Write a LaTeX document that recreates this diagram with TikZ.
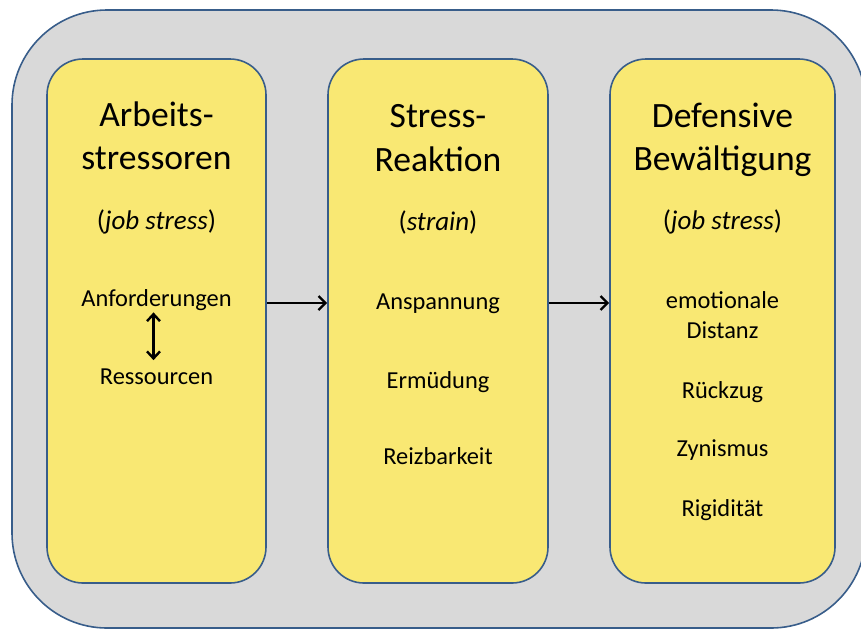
\documentclass[tikz,border=0pt]{standalone}
\usepackage{fontspec}
\setmainfont{Carlito}
\usetikzlibrary{arrows.meta}
\definecolor{panelgray}{RGB}{217,217,217}
\definecolor{edgeblue}{RGB}{56,93,138}
\definecolor{stageyellow}{RGB}{249,232,115}
\begin{document}
\begin{tikzpicture}[x=1pt,y=-1pt,
  outerpanel/.style={draw=edgeblue, fill=panelgray, line width=1.6pt, rounded corners=95pt,
    minimum width=854pt, minimum height=618pt, inner sep=0pt},
  stagebox/.style={draw=edgeblue, fill=stageyellow, line width=1.6pt, rounded corners=36pt,
    minimum height=524pt, inner sep=0pt},
  titletext/.style={anchor=base, inner sep=0pt, font=\fontsize{35.6}{42}\selectfont},
  subtext/.style={anchor=base, inner sep=0pt, font=\fontsize{27}{32}\selectfont},
  itemtext/.style={anchor=base, inner sep=0pt, font=\fontsize{24.4}{29}\selectfont},
  flow/.style={-{Straight Barb[length=7pt,width=14pt]}, line width=2.4pt, black},
  link/.style={{Straight Barb[length=7pt,width=13pt]}-{Straight Barb[length=7pt,width=13pt]}, line width=2.4pt, black}]
\useasboundingbox (0,0) rectangle (861,630);

% background panel
\node[outerpanel] (panel) at (439,319) {};

% the three stages
\node[stagebox, minimum width=219pt] (b1) at (156.5,321) {};
\node[stagebox, minimum width=220pt] (b2) at (438,321) {};
\node[stagebox, minimum width=225pt] (b3) at (722.5,321) {};

% stage 1
\node[titletext] (t1a) at (156.5,126) {Arbeits-};
\node[titletext] (t1b) at (156.5,169) {stressoren};
\node[subtext] (s1) at (156.5,229) {(\textit{job stress})};
\node[itemtext] (anf) at (156.5,306) {Anforderungen};
\node[itemtext] (res) at (156.5,384) {Ressourcen};

% stage 2
\node[titletext] (t2a) at (438,127) {Stress-};
\node[titletext] (t2b) at (438,171) {Reaktion};
\node[subtext] (s2) at (438,230) {(\textit{strain})};
\node[itemtext] (r1) at (438,309) {Anspannung};
\node[itemtext] (r2) at (438,388) {Ermüdung};
\node[itemtext] (r3) at (438,464) {Reizbarkeit};

% stage 3
\node[titletext] (t3a) at (722.5,127) {Defensive};
\node[titletext] (t3b) at (722.5,170) {Bewältigung};
\node[subtext] (s3) at (722.5,229) {(\textit{job stress})};
\node[itemtext] (d1) at (722.5,308) {emotionale};
\node[itemtext] (d1b) at (722.5,338) {Distanz};
\node[itemtext] (d2) at (722.5,398) {Rückzug};
\node[itemtext] (d3) at (722.5,456) {Zynismus};
\node[itemtext] (d4) at (722.5,516) {Rigidität};

% connectors
\draw[link, shorten <=2pt, shorten >=8pt] ([xshift=-3pt]anf.south) -- ([xshift=-3pt]res.north);
\draw[flow] ([yshift=18pt]b1.east) -- ([yshift=18pt]b2.west);
\draw[flow] ([yshift=18pt]b2.east) -- ([yshift=18pt]b3.west);
\end{tikzpicture}
\end{document}
